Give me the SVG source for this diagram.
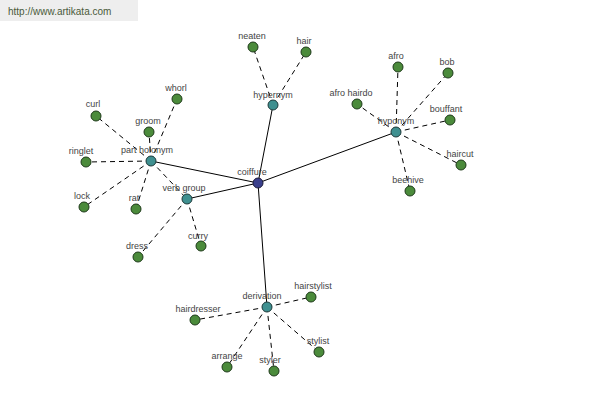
<svg xmlns="http://www.w3.org/2000/svg" width="600" height="400" viewBox="0 0 600 400">
<style>
text{font-family:"Liberation Sans",Arial,sans-serif;font-size:9px;fill:#444;text-anchor:middle}
.s{stroke:#000;stroke-width:1;fill:none}
.d{stroke:#000;stroke-width:1;fill:none;stroke-dasharray:5,4}
.leaf{fill:#4b8b3b;stroke:#1e3a1a;stroke-width:1}
.rel{fill:#3f9090;stroke:#1e3a3a;stroke-width:1}
.root{fill:#3a3f8c;stroke:#1a1a3a;stroke-width:1}
</style>
<rect x="0" y="0" width="138" height="21" fill="#eeeeee"/>
<text x="8" y="15" style="text-anchor:start;font-size:10px;fill:#4a5a3a">http://www.artikata.com</text>
<g id="connectors">
<line class="s" x1="258" y1="183" x2="273" y2="105"/>
<line class="s" x1="258" y1="183" x2="396" y2="132"/>
<line class="s" x1="258" y1="183" x2="151" y2="161"/>
<line class="s" x1="258" y1="183" x2="187" y2="199"/>
<line class="s" x1="258" y1="183" x2="267" y2="307"/>
<line class="d" x1="273" y1="105" x2="253" y2="47"/>
<line class="d" x1="273" y1="105" x2="306" y2="52"/>
<line class="d" x1="396" y1="132" x2="398" y2="67"/>
<line class="d" x1="396" y1="132" x2="448" y2="73"/>
<line class="d" x1="396" y1="132" x2="357" y2="104"/>
<line class="d" x1="396" y1="132" x2="450" y2="120"/>
<line class="d" x1="396" y1="132" x2="461" y2="165"/>
<line class="d" x1="396" y1="132" x2="410" y2="191"/>
<line class="d" x1="151" y1="161" x2="96" y2="116"/>
<line class="d" x1="151" y1="161" x2="177" y2="99"/>
<line class="d" x1="151" y1="161" x2="149" y2="132"/>
<line class="d" x1="151" y1="161" x2="86" y2="162"/>
<line class="d" x1="151" y1="161" x2="84" y2="207"/>
<line class="d" x1="151" y1="161" x2="136" y2="209"/>
<line class="d" x1="151" y1="161" x2="187" y2="199"/>
<line class="d" x1="187" y1="199" x2="138" y2="257"/>
<line class="d" x1="187" y1="199" x2="201" y2="246"/>
<line class="d" x1="267" y1="307" x2="311" y2="297"/>
<line class="d" x1="267" y1="307" x2="195" y2="320"/>
<line class="d" x1="267" y1="307" x2="227" y2="367"/>
<line class="d" x1="267" y1="307" x2="274" y2="371"/>
<line class="d" x1="267" y1="307" x2="319" y2="352"/>
</g>
<g id="coiffure"><circle class="root" cx="258" cy="183" r="5"/><text x="252" y="175">coiffure</text></g>
<g id="hypernym"><circle class="rel" cx="273" cy="105" r="5"/><text x="273" y="98">hypernym</text></g>
<g id="neaten"><circle class="leaf" cx="253" cy="47" r="5"/><text x="252" y="39">neaten</text></g>
<g id="hair"><circle class="leaf" cx="306" cy="52" r="5"/><text x="304" y="44">hair</text></g>
<g id="hyponym"><circle class="rel" cx="396" cy="132" r="5"/><text x="396" y="124">hyponym</text></g>
<g id="afro"><circle class="leaf" cx="398" cy="67" r="5"/><text x="396" y="59">afro</text></g>
<g id="bob"><circle class="leaf" cx="448" cy="73" r="5"/><text x="447" y="65">bob</text></g>
<g id="afro-hairdo"><circle class="leaf" cx="357" cy="104" r="5"/><text x="351" y="96">afro hairdo</text></g>
<g id="bouffant"><circle class="leaf" cx="450" cy="120" r="5"/><text x="446" y="112">bouffant</text></g>
<g id="haircut"><circle class="leaf" cx="461" cy="165" r="5"/><text x="460" y="157">haircut</text></g>
<g id="beehive"><circle class="leaf" cx="410" cy="191" r="5"/><text x="408" y="183">beehive</text></g>
<g id="part-holonym"><circle class="rel" cx="151" cy="161" r="5"/><text x="147" y="153">part holonym</text></g>
<g id="curl"><circle class="leaf" cx="96" cy="116" r="5"/><text x="93" y="107">curl</text></g>
<g id="whorl"><circle class="leaf" cx="177" cy="99" r="5"/><text x="176" y="91">whorl</text></g>
<g id="groom"><circle class="leaf" cx="149" cy="132" r="5"/><text x="148" y="124">groom</text></g>
<g id="ringlet"><circle class="leaf" cx="86" cy="162" r="5"/><text x="81" y="154">ringlet</text></g>
<g id="lock"><circle class="leaf" cx="84" cy="207" r="5"/><text x="82" y="199">lock</text></g>
<g id="rat"><circle class="leaf" cx="136" cy="209" r="5"/><text x="134" y="201">rat</text></g>
<g id="verb-group"><circle class="rel" cx="187" cy="199" r="5"/><text x="184" y="191">verb group</text></g>
<g id="dress"><circle class="leaf" cx="138" cy="257" r="5"/><text x="137" y="249">dress</text></g>
<g id="curry"><circle class="leaf" cx="201" cy="246" r="5"/><text x="198" y="239">curry</text></g>
<g id="derivation"><circle class="rel" cx="267" cy="307" r="5"/><text x="262" y="299">derivation</text></g>
<g id="hairstylist"><circle class="leaf" cx="311" cy="297" r="5"/><text x="313" y="289">hairstylist</text></g>
<g id="hairdresser"><circle class="leaf" cx="195" cy="320" r="5"/><text x="198" y="312">hairdresser</text></g>
<g id="arrange"><circle class="leaf" cx="227" cy="367" r="5"/><text x="227" y="359">arrange</text></g>
<g id="styler"><circle class="leaf" cx="274" cy="371" r="5"/><text x="270" y="363">styler</text></g>
<g id="stylist"><circle class="leaf" cx="319" cy="352" r="5"/><text x="318" y="344">stylist</text></g>
</svg>
